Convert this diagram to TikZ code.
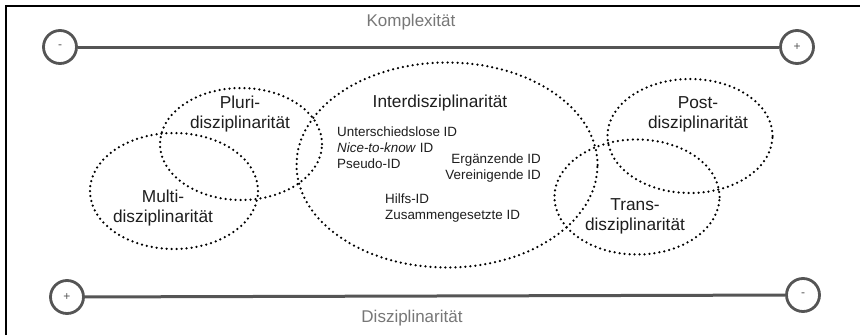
\documentclass[tikz,border=0pt]{standalone}
\usepackage{fontspec}
\setmainfont{Liberation Sans}
\usetikzlibrary{shapes.geometric}
\definecolor{axisgray}{HTML}{555555}
\definecolor{labelgray}{HTML}{777777}
\definecolor{textdark}{HTML}{1E1E1E}
\tikzset{
  endcircle/.style={circle, draw=axisgray, line width=2.8pt, minimum size=33pt, inner sep=0pt, text=axisgray, font=\fontsize{12}{12}\selectfont},
  axisline/.style={draw=axisgray, line width=3pt},
  axislabel/.style={text=labelgray, font=\fontsize{17}{17}\selectfont},
  field/.style={ellipse, draw=black, line width=2.5pt, dash pattern=on 0pt off 5pt, line cap=round, inner sep=0pt},
  fieldlabel/.style={text=textdark, align=center, font=\fontsize{17.3}{20}\selectfont},
  idlabel/.style={text=textdark, font=\fontsize{13.4}{16}\selectfont, inner sep=0pt},
}
\begin{document}
\begin{tikzpicture}[x=1pt,y=-1pt]
\useasboundingbox (0,0) rectangle (860,335);
\fill[white] (0,0) rectangle (860,335);
\draw[black, line width=1.5pt] (6,335) -- (6,6) -- (860,6);
% top axis
\node[endcircle] (tminus) at (60,47) {-};
\node[endcircle] (tplus) at (797,47) {+};
\draw[axisline] (tminus) -- (tplus);
\node[axislabel] (komp) at (411,22) {Komplexität};
% bottom axis
\node[endcircle] (bplus) at (67,297) {+};
\node[endcircle] (bminus) at (803,295) {-};
\draw[axisline] (bplus) -- (bminus);
\node[axislabel] (disz) at (412,318) {Disziplinarität};
% ellipses
\node[field, minimum width=162pt, minimum height=112pt] (pluri) at (241,144) {};
\node[field, minimum width=168pt, minimum height=116pt] (multi) at (174,191) {};
\node[field, minimum width=301pt, minimum height=205pt] (inter) at (447,165) {};
\node[field, minimum width=165pt, minimum height=114pt] (post) at (690,136) {};
\node[field, minimum width=165pt, minimum height=115pt] (trans) at (637,197) {};
% field labels
\node[fieldlabel] (plurit) at (240,114) {Pluri-\\disziplinarität};
\node[fieldlabel] (multit) at (163,208) {Multi-\\disziplinarität};
\node[fieldlabel] (intert) at (440,103) {Interdisziplinarität};
\node[fieldlabel] (postt) at (698,114) {Post-\\disziplinarität};
\node[fieldlabel] (transt) at (635,216) {Trans-\\disziplinarität};
% ID labels
\node[idlabel, anchor=west, align=left] (ida) at (337,148) {Unterschiedslose ID\\\textit{Nice-to-know} ID\\Pseudo-ID};
\node[idlabel, anchor=east, align=right] (idb) at (541,168) {Ergänzende ID\\Vereinigende ID};
\node[idlabel, anchor=west, align=left] (idc) at (385,208) {Hilfs-ID\\Zusammengesetzte ID};
\end{tikzpicture}
\end{document}
